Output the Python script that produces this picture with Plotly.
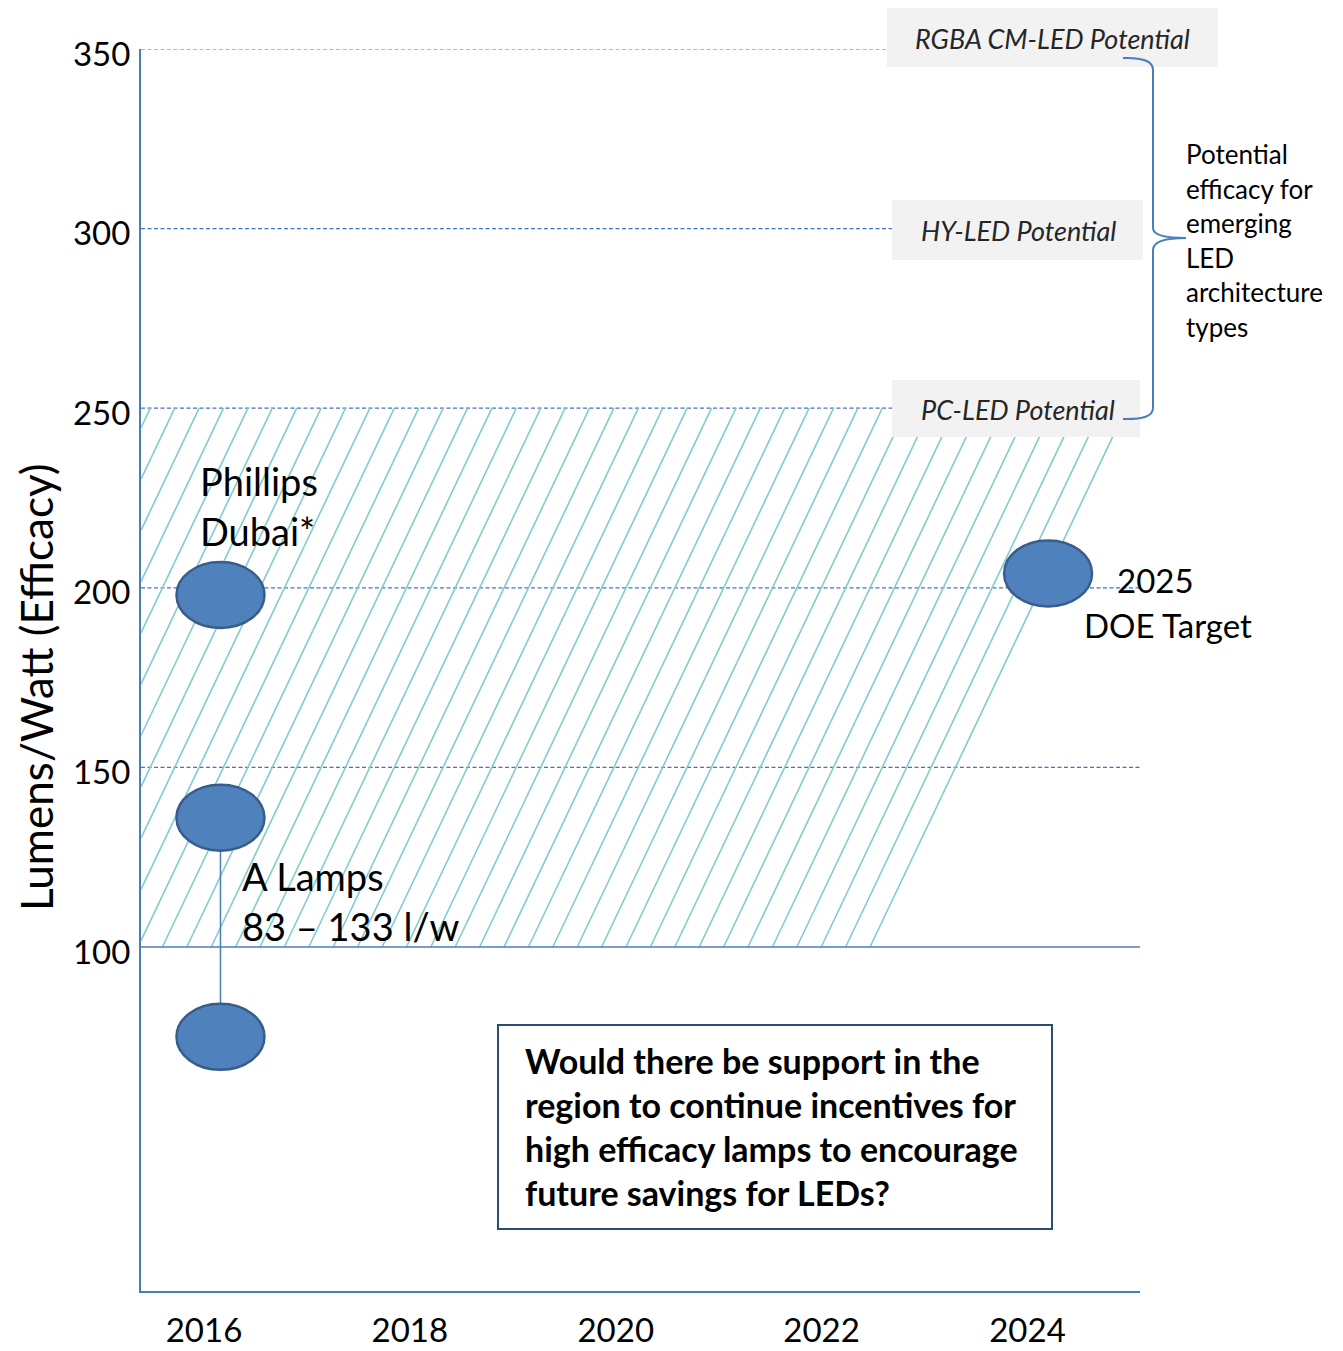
import plotly.graph_objects as go

# ---------------- data ----------------
x_ticks = [2016, 2018, 2020, 2022, 2024]
x_ticktext = ["2016", "2018", "2020", "2022", "2024"]
y_ticks = [100, 150, 200, 250, 300, 350]
y_ticktext = ["100", "150", "200", "250", "300", "350"]
grid_values = [150, 200, 250, 300, 350]

# efficacy points (year, lumens/watt)
phillips_x = [2016.16]
phillips_y = [198]
alamp_x = [2016.16, 2016.16]
alamp_y = [136, 75]
doe_x = [2024.2]
doe_y = [204]

# hatched band (current LED range): top/bottom efficacy, right-edge years
band_top = 250
band_bottom = 100
band_right_top_x = 2024.96
band_right_bottom_x = 2022.47

# potential lines
potential_labels = ["RGBA CM-LED Potential", "HY-LED Potential", "PC-LED Potential"]
potential_values = [350, 300, 250]

# ---------------- geometry helpers ----------------
W, H = 1343, 1351
L, R, T, B = 141, 1140, 49, 1291
X0, X1 = 2015.388, 2025.093
Y0, Y1 = 4.23, 350


def px(x):
    return (x - L) / (R - L)


def py(y):
    return (B - y) / (B - T)


BLUE = "#4A7EBB"
GRID = "#4472C4"
fig = go.Figure()

# hatch lines of the band
slant = band_right_top_x - band_right_bottom_x
spacing = 24.4 / ((R - L) / (X1 - X0))
hx, hy = [], []
xb = band_right_bottom_x
while xb + slant > X0:
    if xb >= X0:
        hx += [xb, xb + slant, None]
        hy += [band_bottom, band_top, None]
    else:
        ys = band_bottom + (X0 - xb) / slant * (band_top - band_bottom)
        hx += [X0, xb + slant, None]
        hy += [ys, band_top, None]
    xb -= spacing
fig.add_trace(go.Scatter(x=hx, y=hy, mode="lines",
                         line=dict(color="#80CCCE", width=1.6),
                         hoverinfo="skip", showlegend=False))

# dashed gridlines
for gv in grid_values:
    fig.add_shape(type="line", xref="paper", yref="y", x0=0, x1=1, y0=gv, y1=gv,
                  line=dict(color=GRID, width=1.2, dash="4px,2.5px"), layer="below")

# connector for A lamps range
fig.add_trace(go.Scatter(x=alamp_x, y=alamp_y, mode="lines",
                         line=dict(color=BLUE, width=1.5),
                         hoverinfo="skip", showlegend=False))

# ellipses for points
rx = 44 / ((R - L) / (X1 - X0))
ry = 33 / ((B - T) / (Y1 - Y0))
for xs, ys in [(phillips_x, phillips_y), (alamp_x, alamp_y), (doe_x, doe_y)]:
    for xv, yv in zip(xs, ys):
        fig.add_shape(type="circle", xref="x", yref="y",
                      x0=xv - rx, x1=xv + rx, y0=yv - ry, y1=yv + ry,
                      fillcolor="#4F81BD", line=dict(color="#385D8A", width=2.5),
                      layer="above")

# solid baseline at 100
fig.add_shape(type="line", xref="paper", yref="y", x0=0, x1=1,
              y0=band_bottom, y1=band_bottom, line=dict(color=BLUE, width=1.5))

# potential label boxes
boxes = [(887, 8, 1218, 67, 913), (892, 200, 1143, 260, 919), (892, 380, 1140, 437, 919)]
for (bx0, by0, bx1, by1, tx), lab in zip(boxes, potential_labels):
    fig.add_shape(type="rect", xref="paper", yref="paper",
                  x0=px(bx0), x1=px(bx1), y0=py(by1), y1=py(by0),
                  fillcolor="#F2F2F2", line=dict(width=0), layer="above")
    fig.add_annotation(xref="paper", yref="paper", x=px(tx), y=py((by0 + by1) / 2 + 1),
                       text="<i>" + lab + "</i>", showarrow=False,
                       xanchor="left", yanchor="middle",
                       font=dict(size=27, color="#262626"))

# curly brace
coords = [(1123, 58), (1153, 57), (1153, 70), (1153, 228), (1153, 238), (1186, 238),
          (1153, 238), (1153, 250), (1153, 408), (1153, 420), (1123, 419)]
path = "M {} {}".format(px(coords[0][0]), py(coords[0][1]))
path += " Q {} {} {} {}".format(px(coords[1][0]), py(coords[1][1]), px(coords[2][0]), py(coords[2][1]))
path += " L {} {}".format(px(coords[3][0]), py(coords[3][1]))
path += " Q {} {} {} {}".format(px(coords[4][0]), py(coords[4][1]), px(coords[5][0]), py(coords[5][1]))
path += " Q {} {} {} {}".format(px(coords[6][0]), py(coords[6][1]), px(coords[7][0]), py(coords[7][1]))
path += " L {} {}".format(px(coords[8][0]), py(coords[8][1]))
path += " Q {} {} {} {}".format(px(coords[9][0]), py(coords[9][1]), px(coords[10][0]), py(coords[10][1]))
fig.add_shape(type="path", xref="paper", yref="paper", path=path,
              line=dict(color=BLUE, width=2), layer="above")

# brace text
brace_lines = ["Potential", "efficacy for", "emerging", "LED", "architecture", "types"]
for i, t in enumerate(brace_lines):
    fig.add_annotation(xref="paper", yref="paper", x=px(1184), y=py(154 + i * 34.6),
                       text=t, showarrow=False, xanchor="left", yanchor="middle",
                       font=dict(size=26, color="#000000"))

# point labels
point_labels = [("Phillips", 198, 481, 38), ("Dubai*", 198, 531, 38),
                ("A Lamps", 240, 876, 38), ("83 \u2013 133 l/w", 240, 926, 38),
                ("2025", 1115, 580, 33), ("DOE Target", 1082, 625, 33)]
for t, lx, ly, fs in point_labels:
    fig.add_annotation(xref="paper", yref="paper", x=px(lx), y=py(ly),
                       text=t, showarrow=False, xanchor="left", yanchor="middle",
                       font=dict(size=fs, color="#000000"))

# question box
fig.add_shape(type="rect", xref="paper", yref="paper",
              x0=px(498), x1=px(1052), y0=py(1229), y1=py(1025),
              fillcolor="white", line=dict(color="#2F4A78", width=2), layer="above")
q_lines = ["Would there be support in the", "region to continue incentives for",
           "high efficacy lamps to encourage", "future savings for LEDs?"]
for i, t in enumerate(q_lines):
    fig.add_annotation(xref="paper", yref="paper", x=px(523), y=py(1060 + i * 44.3),
                       text="<b>" + t + "</b>", showarrow=False, xanchor="left", yanchor="middle",
                       font=dict(size=34, color="#000000"))

# y axis title
fig.add_annotation(xref="paper", yref="paper", x=px(36), y=py(688),
                   text="Lumens/Watt (Efficacy)", textangle=-90, showarrow=False,
                   xanchor="center", yanchor="middle", font=dict(size=44, color="#000000"))

fig.update_layout(
    width=W, height=H,
    margin=dict(l=L, r=W - R, t=T, b=H - B, autoexpand=False),
    plot_bgcolor="white", paper_bgcolor="white",
    font=dict(family="Lato", color="#000000"),
    showlegend=False,
)
fig.update_xaxes(range=[X0, X1], tickvals=x_ticks, ticktext=x_ticktext,
                 showgrid=False, zeroline=False, showline=True, linecolor=BLUE, linewidth=2,
                 ticks="", tickfont=dict(size=33), ticklabelstandoff=9)
fig.update_yaxes(range=[Y0, Y1], tickvals=y_ticks, ticktext=y_ticktext,
                 showgrid=False, zeroline=False, showline=True, linecolor=BLUE, linewidth=2,
                 ticks="", tickfont=dict(size=33), ticklabelstandoff=2, ticklabelshift=5)

fig.write_html("out.html")
